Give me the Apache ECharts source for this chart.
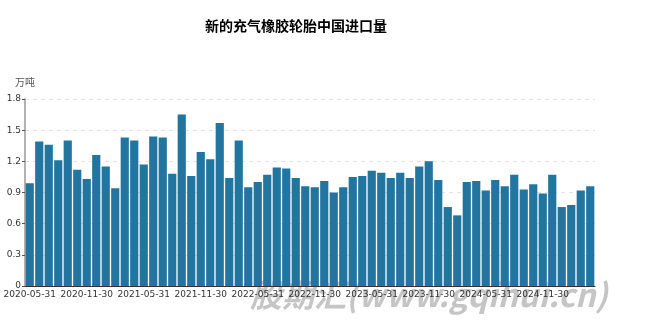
<!DOCTYPE html>
<html>
<head>
<meta charset="utf-8">
<script src="https://cdn.jsdelivr.net/npm/echarts@6/dist/echarts.min.js"></script>
<style>
  html, body { margin: 0; padding: 0; background: #fff; }
  #chart { width: 653px; height: 326px; }
</style>
</head>
<body>
<div id="chart"></div>
<script>
// Monthly month-end dates
const months = [
  '2020-05-31','2020-06-30','2020-07-31','2020-08-31','2020-09-30','2020-10-31',
  '2020-11-30','2020-12-31','2021-01-31','2021-02-28','2021-03-31','2021-04-30',
  '2021-05-31','2021-06-30','2021-07-31','2021-08-31','2021-09-30','2021-10-31',
  '2021-11-30','2021-12-31','2022-01-31','2022-02-28','2022-03-31','2022-04-30',
  '2022-05-31','2022-06-30','2022-07-31','2022-08-31','2022-09-30','2022-10-31',
  '2022-11-30','2022-12-31','2023-01-31','2023-02-28','2023-03-31','2023-04-30',
  '2023-05-31','2023-06-30','2023-07-31','2023-08-31','2023-09-30','2023-10-31',
  '2023-11-30','2023-12-31','2024-01-31','2024-02-29','2024-03-31','2024-04-30',
  '2024-05-31','2024-06-30','2024-07-31','2024-08-31','2024-09-30','2024-10-31',
  '2024-11-30','2024-12-31','2025-01-31','2025-02-28','2025-03-31','2025-04-30'
];

// Import volume, 10k tonnes
const importVolume = [
  0.99, 1.39, 1.36, 1.21, 1.40, 1.12,
  1.03, 1.26, 1.15, 0.94, 1.43, 1.40,
  1.17, 1.44, 1.43, 1.08, 1.65, 1.06,
  1.29, 1.22, 1.57, 1.04, 1.40, 0.95,
  1.00, 1.07, 1.14, 1.13, 1.04, 0.96,
  0.95, 1.01, 0.90, 0.95, 1.05, 1.06,
  1.11, 1.09, 1.04, 1.09, 1.04, 1.15,
  1.20, 1.02, 0.76, 0.68, 1.00, 1.01,
  0.92, 1.02, 0.96, 1.07, 0.93, 0.98,
  0.89, 1.07, 0.76, 0.78, 0.92, 0.96
];

const yTicks = [0, 0.3, 0.6, 0.9, 1.2, 1.5, 1.8];

const chart = echarts.init(document.getElementById('chart'), null, { renderer: 'canvas' });

chart.setOption({
  animation: false,
  backgroundColor: '#ffffff',
  title: {
    text: '新的充气橡胶轮胎中国进口量',
    left: 200,
    top: 14,
    textStyle: {
      fontFamily: 'Noto Sans CJK SC',
      fontSize: 14,
      fontWeight: 'bold',
      color: '#000'
    }
  },
  grid: { left: 25, right: 58, top: 99, bottom: 40 },
  xAxis: {
    type: 'category',
    data: months,
    axisLine: { lineStyle: { color: '#333', width: 1 } },
    axisTick: { alignWithLabel: true, interval: 5, length: 4, lineStyle: { color: '#333' } },
    axisLabel: {
      interval: 5,
      fontSize: 9,
      color: '#333',
      fontFamily: 'DejaVu Sans',
      margin: 4
    }
  },
  yAxis: {
    type: 'value',
    name: '万吨',
    nameGap: 12,
    nameTextStyle: { fontSize: 10, color: '#555', fontFamily: 'Noto Sans CJK SC', align: 'center' },
    min: yTicks[0],
    max: yTicks[yTicks.length - 1],
    interval: 0.3,
    axisLine: { show: true, lineStyle: { color: '#999', width: 1.5 } },
    axisTick: { show: true, length: 3, lineStyle: { color: '#555' } },
    axisLabel: {
      fontSize: 9,
      color: '#333',
      fontFamily: 'DejaVu Sans',
      margin: 4,
      formatter: v => String(Math.round(v * 10) / 10)
    },
    splitLine: { lineStyle: { color: '#e3e3e3', type: [4, 4] } }
  },
  series: [{
    type: 'bar',
    data: importVolume,
    barCategoryGap: '14%',
    itemStyle: { color: '#21759f' }
  }],
  graphic: [{
    type: 'text',
    left: 250,
    top: 279,
    silent: true,
    style: {
      text: '股期汇(www.gqihui.cn)',
      fontSize: 32,
      fontWeight: 'bold',
      fontStyle: 'italic',
      fontFamily: 'Noto Sans CJK SC',
      fill: 'rgba(150,150,150,0.55)'
    }
  }]
});
</script>
</body>
</html>
